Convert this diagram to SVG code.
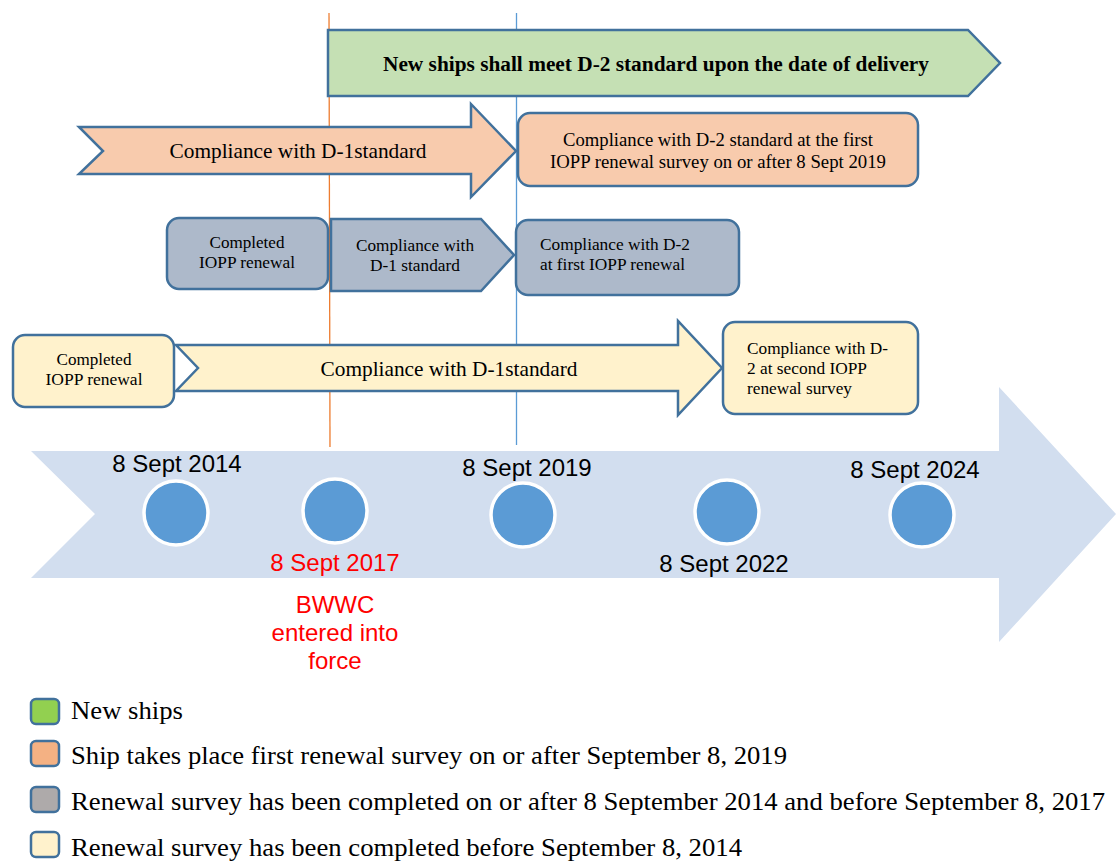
<svg xmlns="http://www.w3.org/2000/svg" width="1116" height="862" viewBox="0 0 1116 862">
<style>
.sh{stroke:#41719c;stroke-width:2.5;stroke-linejoin:miter}
.t{font-family:"Liberation Serif","Times New Roman",serif;fill:#000}
.s{font-size:17px}
.c{font-family:"Liberation Sans",Arial,sans-serif;font-size:24px;fill:#000;text-anchor:middle}
.r{fill:#ff0000}
.lg{font-family:"Liberation Serif","Times New Roman",serif;font-size:26px;fill:#000}
.dot{fill:#5b9bd5;stroke:#fff;stroke-width:3.5}
</style>
<rect width="1116" height="862" fill="#fff"/>

<g id="timeline">
<polygon points="31,451 999,451 999,387 1116,514 999,642 999,578 31,578 95,514" fill="#d2deef"/>
</g>

<g id="connectors">
<line x1="329" y1="13" x2="330" y2="447" stroke="#ed7d31" stroke-width="1.3"/>
<line x1="516.5" y1="13" x2="516.5" y2="445" stroke="#5b9bd5" stroke-width="1.3"/>
</g>

<g id="new-ships">
<polygon class="sh" points="328,30 968,30 1000,63 968,96 328,96" fill="#c5e0b4"/>
<text class="t" x="656" y="71" font-size="20.5" font-weight="bold" text-anchor="middle" textLength="546" lengthAdjust="spacingAndGlyphs">New ships shall meet D-2 standard upon the date of delivery</text>
</g>

<g id="orange-arrow">
<polygon class="sh" points="79,127 471,127 471,104 516,151 471,197 471,174 79,174 103,151" fill="#f8cbad"/>
<text class="t" x="298" y="158" font-size="21.5" text-anchor="middle" textLength="257" lengthAdjust="spacingAndGlyphs">Compliance with D-1standard</text>
</g>
<g id="orange-box">
<rect class="sh" x="518" y="113" width="400" height="73" rx="12" fill="#f8cbad"/>
<text class="t" x="718" y="146" font-size="18.5" text-anchor="middle" textLength="310" lengthAdjust="spacingAndGlyphs">Compliance with D-2 standard at the first</text>
<text class="t" x="718" y="168" font-size="18.5" text-anchor="middle" textLength="336" lengthAdjust="spacingAndGlyphs">IOPP renewal survey on or after 8 Sept 2019</text>
</g>

<g id="grey-completed">
<rect class="sh" x="167" y="218" width="161" height="71" rx="12" fill="#adb9ca"/>
<text class="t s" x="247" y="248" text-anchor="middle" textLength="75" lengthAdjust="spacingAndGlyphs">Completed</text>
<text class="t s" x="247" y="268" text-anchor="middle" textLength="96" lengthAdjust="spacingAndGlyphs">IOPP renewal</text>
</g>
<g id="grey-arrow">
<polygon class="sh" points="331,219 481,219 514,255 481,291 331,291" fill="#adb9ca"/>
<text class="t s" x="415" y="251" text-anchor="middle" textLength="118" lengthAdjust="spacingAndGlyphs">Compliance with</text>
<text class="t s" x="415" y="271" text-anchor="middle" textLength="90" lengthAdjust="spacingAndGlyphs">D-1 standard</text>
</g>
<g id="grey-box">
<rect class="sh" x="516" y="220" width="223" height="75" rx="12" fill="#adb9ca"/>
<text class="t s" x="540" y="250" textLength="150" lengthAdjust="spacingAndGlyphs">Compliance with D-2</text>
<text class="t s" x="540" y="270" textLength="145" lengthAdjust="spacingAndGlyphs">at first IOPP renewal</text>
</g>

<g id="yellow-completed">
<rect class="sh" x="13" y="335" width="161" height="72" rx="12" fill="#fff2cc"/>
<text class="t s" x="94" y="365" text-anchor="middle" textLength="75" lengthAdjust="spacingAndGlyphs">Completed</text>
<text class="t s" x="94" y="385" text-anchor="middle" textLength="97" lengthAdjust="spacingAndGlyphs">IOPP renewal</text>
</g>
<g id="yellow-arrow">
<polygon class="sh" points="176,345 678,345 678,321 722,368 678,415 678,391 176,391 198,368" fill="#fff2cc"/>
<text class="t" x="449" y="376" font-size="21.5" text-anchor="middle" textLength="257" lengthAdjust="spacingAndGlyphs">Compliance with D-1standard</text>
</g>
<g id="yellow-box">
<rect class="sh" x="723" y="322" width="195" height="92" rx="12" fill="#fff2cc"/>
<text class="t s" x="747" y="354" textLength="141" lengthAdjust="spacingAndGlyphs">Compliance with D-</text>
<text class="t s" x="747" y="374" textLength="120" lengthAdjust="spacingAndGlyphs">2 at second IOPP</text>
<text class="t s" x="747" y="394" textLength="105" lengthAdjust="spacingAndGlyphs">renewal survey</text>
</g>

<g id="date-2014">
<circle class="dot" cx="176" cy="513" r="32"/>
<text class="c" x="177" y="472">8 Sept 2014</text>
</g>
<g id="date-2017">
<circle class="dot" cx="335" cy="511" r="32"/>
<text class="c r" x="335" y="571">8 Sept 2017</text>
<text class="c r" x="335" y="613">BWWC</text>
<text class="c r" x="335" y="641">entered into</text>
<text class="c r" x="335" y="669">force</text>
</g>
<g id="date-2019">
<circle class="dot" cx="523" cy="515" r="32"/>
<text class="c" x="527" y="476">8 Sept 2019</text>
</g>
<g id="date-2022">
<circle class="dot" cx="727" cy="512" r="32"/>
<text class="c" x="724" y="572">8 Sept 2022</text>
</g>
<g id="date-2024">
<circle class="dot" cx="922" cy="515" r="32"/>
<text class="c" x="915" y="478">8 Sept 2024</text>
</g>

<g id="legend">
<rect class="sh" x="31" y="699" width="28" height="25" rx="5" fill="#92d050"/>
<text class="lg" x="71" y="719" textLength="112" lengthAdjust="spacingAndGlyphs">New ships</text>
<rect class="sh" x="31" y="741" width="28" height="25" rx="5" fill="#f4b183"/>
<text class="lg" x="71" y="764" textLength="716" lengthAdjust="spacingAndGlyphs">Ship takes place first renewal survey on or after September 8, 2019</text>
<rect class="sh" x="31" y="787" width="28" height="25" rx="5" fill="#aeaaaa"/>
<text class="lg" x="71" y="810" textLength="1034" lengthAdjust="spacingAndGlyphs">Renewal survey has been completed on or after 8 September 2014 and before September 8, 2017</text>
<rect class="sh" x="31" y="832" width="28" height="25" rx="5" fill="#fff2cc"/>
<text class="lg" x="71" y="856" textLength="671" lengthAdjust="spacingAndGlyphs">Renewal survey has been completed before September 8, 2014</text>
</g>
</svg>
